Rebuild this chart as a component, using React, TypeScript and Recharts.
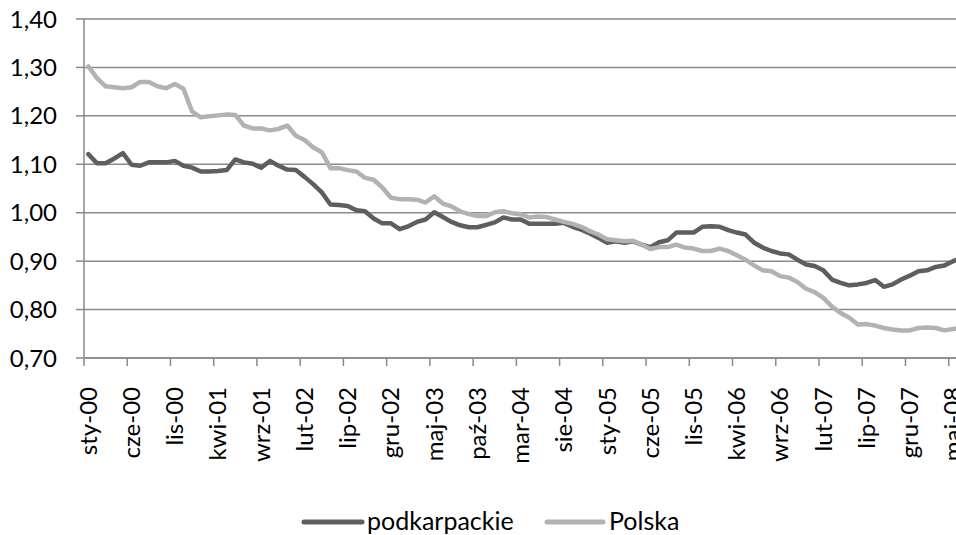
import React from "react";
import { LineChart, Line, XAxis, YAxis, CartesianGrid } from "recharts";

// --- Data ---

const TICK_LABELS = [
  "sty-00", "cze-00", "lis-00", "kwi-01", "wrz-01", "lut-02", "lip-02",
  "gru-02", "maj-03", "paź-03", "mar-04", "sie-04", "sty-05", "cze-05",
  "lis-05", "kwi-06", "wrz-06", "lut-07", "lip-07", "gru-07", "maj-08",
];

// monthly values, sty-00 onwards
const PODKARPACKIE = [
  1.121, 1.102, 1.102, 1.112, 1.123, 1.099, 1.097, 1.104, 1.104, 1.104,
  1.107, 1.097, 1.093, 1.085, 1.085, 1.086, 1.088, 1.11, 1.104, 1.101,
  1.093, 1.107, 1.097, 1.089, 1.088, 1.074, 1.059, 1.042, 1.017, 1.016,
  1.014, 1.005, 1.003, 0.988, 0.978, 0.978, 0.966, 0.972, 0.981, 0.986,
  1.001, 0.991, 0.981, 0.974, 0.97, 0.97, 0.975, 0.98, 0.99, 0.986,
  0.986, 0.977, 0.977, 0.977, 0.977, 0.979, 0.971, 0.965, 0.957, 0.948,
  0.938, 0.941, 0.938, 0.941, 0.934, 0.929, 0.939, 0.943, 0.959, 0.959,
  0.959, 0.971, 0.972, 0.971, 0.964, 0.959, 0.955, 0.938, 0.928, 0.921,
  0.916, 0.914, 0.903, 0.893, 0.89, 0.881, 0.862, 0.855, 0.85, 0.852,
  0.855, 0.861, 0.847, 0.852, 0.862, 0.87, 0.879, 0.881, 0.888, 0.891,
  0.9, 0.906,
];

const POLSKA = [
  1.302, 1.278, 1.261, 1.259, 1.257, 1.259, 1.27, 1.27, 1.261, 1.257,
  1.266, 1.256, 1.209, 1.197, 1.199, 1.201, 1.203, 1.202, 1.18, 1.174,
  1.174, 1.17, 1.173, 1.18, 1.159, 1.15, 1.135, 1.125, 1.092, 1.092,
  1.088, 1.085, 1.072, 1.068, 1.052, 1.031, 1.028, 1.028, 1.027, 1.021,
  1.034, 1.019, 1.013, 1.003, 0.997, 0.993, 0.993, 1.001, 1.003, 0.999,
  0.997, 0.99, 0.992, 0.991, 0.986, 0.981, 0.977, 0.971, 0.962, 0.955,
  0.945, 0.943, 0.941, 0.942, 0.934, 0.925, 0.929, 0.929, 0.934, 0.928,
  0.926, 0.921, 0.921, 0.926, 0.921, 0.912, 0.903, 0.891, 0.881, 0.879,
  0.869, 0.866, 0.857, 0.843, 0.836, 0.824, 0.806, 0.793, 0.783, 0.769,
  0.77, 0.767, 0.762, 0.759, 0.757, 0.757, 0.762, 0.763, 0.762, 0.757,
  0.76, 0.762,
];

const Y_TICKS = [0.7, 0.8, 0.9, 1.0, 1.1, 1.2, 1.3, 1.4];

// --- Styling ---

const DARK = "#5e5e5e";
const LIGHT = "#b2b2b2";
const GRID = "#8a8a8a";
const FONT = "Lato, 'Open Sans', sans-serif";
const FONT_SIZE = 24;

const MONTHS_SPAN = 102;
const PLOT_W = 882;
const HALF_MONTH = PLOT_W / MONTHS_SPAN / 2;

const data = PODKARPACKIE.map((v, i) => ({
  x: i + 0.5,
  podkarpackie: v,
  polska: POLSKA[i],
}));

const xTicks = TICK_LABELS.map((_, i) => i * 5);

function MonthTick({ x, y, payload }: any) {
  const label = TICK_LABELS[Math.round(payload.value / 5)];
  const tx = x + HALF_MONTH;
  const ty = y + 21;
  return (
    <text
      x={tx}
      y={ty}
      dy="0.35em"
      textAnchor="end"
      transform={`rotate(-90 ${tx} ${ty})`}
      fill="#000"
      fontSize={FONT_SIZE}
      fontFamily={FONT}
    >
      {label}
    </text>
  );
}

function ChartLegend() {
  return (
    <svg
      width={956}
      height={535}
      style={{ position: "absolute", left: 0, top: 0, pointerEvents: "none" }}
    >
      <line x1={304} y1={522} x2={362} y2={522} stroke={DARK} strokeWidth={5} strokeLinecap="round" />
      <text x={367} y={530} fontSize={25} fontFamily={FONT} fill="#000">
        podkarpackie
      </text>
      <line x1={547} y1={522} x2={603} y2={522} stroke={LIGHT} strokeWidth={5} strokeLinecap="round" />
      <text x={609} y={530} fontSize={25} fontFamily={FONT} fill="#000">
        Polska
      </text>
    </svg>
  );
}

export default function App() {
  return (
    <div
      style={{
        position: "absolute",
        left: 0,
        top: 0,
        width: 956,
        height: 535,
        overflow: "hidden",
        background: "#fff",
        fontFamily: FONT,
      }}
    >
      <LineChart
        width={84 + PLOT_W + 24}
        height={535}
        data={data}
        margin={{ top: 19, right: 24, bottom: 77, left: 0 }}
      >
        <CartesianGrid vertical={false} stroke={GRID} strokeWidth={1.5} />
        <XAxis
          type="number"
          dataKey="x"
          domain={[0, MONTHS_SPAN]}
          ticks={xTicks}
          interval={0}
          height={100}
          tickSize={8}
          tickMargin={0}
          axisLine={{ stroke: GRID, strokeWidth: 1.5 }}
          tickLine={{ stroke: GRID, strokeWidth: 1.5 }}
          tick={<MonthTick />}
        />
        <YAxis
          type="number"
          domain={[0.7, 1.4]}
          ticks={Y_TICKS}
          interval={0}
          width={84}
          tickSize={8}
          tickMargin={19}
          axisLine={{ stroke: GRID, strokeWidth: 1.5 }}
          tickLine={{ stroke: GRID, strokeWidth: 1.5 }}
          tick={{ fill: "#000", fontSize: FONT_SIZE, fontFamily: FONT }}
          tickFormatter={(v: number) => v.toFixed(2).replace(".", ",")}
        />
        <Line
          type="linear"
          dataKey="podkarpackie"
          stroke={DARK}
          strokeWidth={4.5}
          strokeLinejoin="round"
          strokeLinecap="round"
          dot={false}
          activeDot={false}
          isAnimationActive={false}
        />
        <Line
          type="linear"
          dataKey="polska"
          stroke={LIGHT}
          strokeWidth={4.5}
          strokeLinejoin="round"
          strokeLinecap="round"
          dot={false}
          activeDot={false}
          isAnimationActive={false}
        />
      </LineChart>
      <ChartLegend />
    </div>
  );
}
